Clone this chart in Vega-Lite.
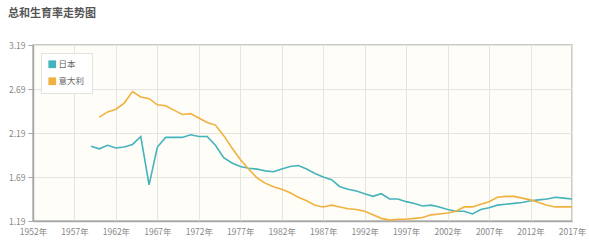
{
  "$schema": "https://vega.github.io/schema/vega-lite/v6.json",
  "autosize": "none",
  "width": 539,
  "height": 176,
  "padding": {"left": 33, "top": 45, "right": 17, "bottom": 31},
  "background": "#ffffff",
  "title": {
    "text": "总和生育率走势图",
    "anchor": "start",
    "frame": "group",
    "dx": -25,
    "offset": 22,
    "font": "Noto Sans CJK SC",
    "fontSize": 11,
    "fontWeight": "bold",
    "color": "#555555"
  },
  "config": {
    "font": "Noto Sans CJK SC",
    "view": {"fill": "#fffdf7", "stroke": "#b8b8b8", "strokeWidth": 1.5},
    "axis": {
      "labelFont": "Noto Sans CJK SC",
      "labelFontSize": 8.5,
      "labelColor": "#888888",
      "gridColor": "#e6e4de",
      "domainColor": "#a8a8a8",
      "tickColor": "#a8a8a8",
      "title": null
    }
  },
  "data": {
    "values": [
      {"year": 1959, "country": "日本", "tfr": 2.04},
      {"year": 1960, "country": "日本", "tfr": 2.01},
      {"year": 1961, "country": "日本", "tfr": 2.05},
      {"year": 1962, "country": "日本", "tfr": 2.02},
      {"year": 1963, "country": "日本", "tfr": 2.03},
      {"year": 1964, "country": "日本", "tfr": 2.06},
      {"year": 1965, "country": "日本", "tfr": 2.15},
      {"year": 1966, "country": "日本", "tfr": 1.60},
      {"year": 1967, "country": "日本", "tfr": 2.03},
      {"year": 1968, "country": "日本", "tfr": 2.14},
      {"year": 1969, "country": "日本", "tfr": 2.14},
      {"year": 1970, "country": "日本", "tfr": 2.14},
      {"year": 1971, "country": "日本", "tfr": 2.17},
      {"year": 1972, "country": "日本", "tfr": 2.15},
      {"year": 1973, "country": "日本", "tfr": 2.15},
      {"year": 1974, "country": "日本", "tfr": 2.05},
      {"year": 1975, "country": "日本", "tfr": 1.91},
      {"year": 1976, "country": "日本", "tfr": 1.85},
      {"year": 1977, "country": "日本", "tfr": 1.81},
      {"year": 1978, "country": "日本", "tfr": 1.79},
      {"year": 1979, "country": "日本", "tfr": 1.78},
      {"year": 1980, "country": "日本", "tfr": 1.76},
      {"year": 1981, "country": "日本", "tfr": 1.75},
      {"year": 1982, "country": "日本", "tfr": 1.78},
      {"year": 1983, "country": "日本", "tfr": 1.81},
      {"year": 1984, "country": "日本", "tfr": 1.82},
      {"year": 1985, "country": "日本", "tfr": 1.78},
      {"year": 1986, "country": "日本", "tfr": 1.73},
      {"year": 1987, "country": "日本", "tfr": 1.69},
      {"year": 1988, "country": "日本", "tfr": 1.66},
      {"year": 1989, "country": "日本", "tfr": 1.58},
      {"year": 1990, "country": "日本", "tfr": 1.55},
      {"year": 1991, "country": "日本", "tfr": 1.53},
      {"year": 1992, "country": "日本", "tfr": 1.50},
      {"year": 1993, "country": "日本", "tfr": 1.47},
      {"year": 1994, "country": "日本", "tfr": 1.50},
      {"year": 1995, "country": "日本", "tfr": 1.44},
      {"year": 1996, "country": "日本", "tfr": 1.44},
      {"year": 1997, "country": "日本", "tfr": 1.41},
      {"year": 1998, "country": "日本", "tfr": 1.39},
      {"year": 1999, "country": "日本", "tfr": 1.36},
      {"year": 2000, "country": "日本", "tfr": 1.37},
      {"year": 2001, "country": "日本", "tfr": 1.35},
      {"year": 2002, "country": "日本", "tfr": 1.32},
      {"year": 2003, "country": "日本", "tfr": 1.30},
      {"year": 2004, "country": "日本", "tfr": 1.30},
      {"year": 2005, "country": "日本", "tfr": 1.27},
      {"year": 2006, "country": "日本", "tfr": 1.32},
      {"year": 2007, "country": "日本", "tfr": 1.34},
      {"year": 2008, "country": "日本", "tfr": 1.37},
      {"year": 2009, "country": "日本", "tfr": 1.38},
      {"year": 2010, "country": "日本", "tfr": 1.39},
      {"year": 2011, "country": "日本", "tfr": 1.40},
      {"year": 2012, "country": "日本", "tfr": 1.42},
      {"year": 2013, "country": "日本", "tfr": 1.43},
      {"year": 2014, "country": "日本", "tfr": 1.44},
      {"year": 2015, "country": "日本", "tfr": 1.46},
      {"year": 2016, "country": "日本", "tfr": 1.45},
      {"year": 2017, "country": "日本", "tfr": 1.44},
      {"year": 1960, "country": "意大利", "tfr": 2.37},
      {"year": 1961, "country": "意大利", "tfr": 2.43},
      {"year": 1962, "country": "意大利", "tfr": 2.46},
      {"year": 1963, "country": "意大利", "tfr": 2.53},
      {"year": 1964, "country": "意大利", "tfr": 2.66},
      {"year": 1965, "country": "意大利", "tfr": 2.60},
      {"year": 1966, "country": "意大利", "tfr": 2.58},
      {"year": 1967, "country": "意大利", "tfr": 2.51},
      {"year": 1968, "country": "意大利", "tfr": 2.50},
      {"year": 1969, "country": "意大利", "tfr": 2.45},
      {"year": 1970, "country": "意大利", "tfr": 2.40},
      {"year": 1971, "country": "意大利", "tfr": 2.41},
      {"year": 1972, "country": "意大利", "tfr": 2.36},
      {"year": 1973, "country": "意大利", "tfr": 2.31},
      {"year": 1974, "country": "意大利", "tfr": 2.28},
      {"year": 1975, "country": "意大利", "tfr": 2.16},
      {"year": 1976, "country": "意大利", "tfr": 2.02},
      {"year": 1977, "country": "意大利", "tfr": 1.89},
      {"year": 1978, "country": "意大利", "tfr": 1.78},
      {"year": 1979, "country": "意大利", "tfr": 1.68},
      {"year": 1980, "country": "意大利", "tfr": 1.62},
      {"year": 1981, "country": "意大利", "tfr": 1.58},
      {"year": 1982, "country": "意大利", "tfr": 1.55},
      {"year": 1983, "country": "意大利", "tfr": 1.51},
      {"year": 1984, "country": "意大利", "tfr": 1.46},
      {"year": 1985, "country": "意大利", "tfr": 1.42},
      {"year": 1986, "country": "意大利", "tfr": 1.37},
      {"year": 1987, "country": "意大利", "tfr": 1.35},
      {"year": 1988, "country": "意大利", "tfr": 1.37},
      {"year": 1989, "country": "意大利", "tfr": 1.35},
      {"year": 1990, "country": "意大利", "tfr": 1.33},
      {"year": 1991, "country": "意大利", "tfr": 1.32},
      {"year": 1992, "country": "意大利", "tfr": 1.30},
      {"year": 1993, "country": "意大利", "tfr": 1.26},
      {"year": 1994, "country": "意大利", "tfr": 1.22},
      {"year": 1995, "country": "意大利", "tfr": 1.20},
      {"year": 1996, "country": "意大利", "tfr": 1.21},
      {"year": 1997, "country": "意大利", "tfr": 1.21},
      {"year": 1998, "country": "意大利", "tfr": 1.22},
      {"year": 1999, "country": "意大利", "tfr": 1.23},
      {"year": 2000, "country": "意大利", "tfr": 1.26},
      {"year": 2001, "country": "意大利", "tfr": 1.27},
      {"year": 2002, "country": "意大利", "tfr": 1.28},
      {"year": 2003, "country": "意大利", "tfr": 1.30},
      {"year": 2004, "country": "意大利", "tfr": 1.35},
      {"year": 2005, "country": "意大利", "tfr": 1.35},
      {"year": 2006, "country": "意大利", "tfr": 1.38},
      {"year": 2007, "country": "意大利", "tfr": 1.41},
      {"year": 2008, "country": "意大利", "tfr": 1.46},
      {"year": 2009, "country": "意大利", "tfr": 1.47},
      {"year": 2010, "country": "意大利", "tfr": 1.47},
      {"year": 2011, "country": "意大利", "tfr": 1.45},
      {"year": 2012, "country": "意大利", "tfr": 1.43},
      {"year": 2013, "country": "意大利", "tfr": 1.40},
      {"year": 2014, "country": "意大利", "tfr": 1.37},
      {"year": 2015, "country": "意大利", "tfr": 1.35},
      {"year": 2016, "country": "意大利", "tfr": 1.35},
      {"year": 2017, "country": "意大利", "tfr": 1.35}
    ]
  },
  "mark": {"type": "line", "strokeWidth": 1.6},
  "encoding": {
    "x": {
      "field": "year",
      "type": "quantitative",
      "scale": {"domain": [1952, 2017], "nice": false, "zero": false},
      "axis": {
        "values": [1952, 1957, 1962, 1967, 1972, 1977, 1982, 1987, 1992, 1997, 2002, 2007, 2012, 2017],
        "labelExpr": "datum.value + '年'",
        "grid": true,
        "ticks": false,
        "domainWidth": 1.5,
        "labelPadding": 6,
        "labelFlush": false,
        "labelOverlap": false
      }
    },
    "y": {
      "field": "tfr",
      "type": "quantitative",
      "scale": {"domain": [1.19, 3.19], "nice": false, "zero": false},
      "axis": {
        "values": [1.19, 1.69, 2.19, 2.69, 3.19],
        "format": ".2f",
        "grid": true,
        "tickSize": 5,
        "domainWidth": 1.5,
        "labelPadding": 3
      }
    },
    "color": {
      "field": "country",
      "type": "nominal",
      "sort": ["日本", "意大利"],
      "scale": {"domain": ["日本", "意大利"], "range": ["#45b3bb", "#f1b13f"]},
      "legend": {
        "title": null,
        "orient": "none",
        "legendX": 8,
        "legendY": 8,
        "padding": 7,
        "fillColor": "#ffffff",
        "strokeColor": "#e2e2e2",
        "symbolType": "square",
        "symbolSize": 60,
        "symbolStrokeWidth": 0,
        "labelFont": "Noto Sans CJK SC",
        "labelFontSize": 8.5,
        "labelColor": "#666666",
        "labelOffset": 2,
        "rowPadding": 8,
        "encode": {"symbols": {"update": {"fill": {"scale": "color", "field": "value"}, "fillOpacity": {"value": 1}}}}
      }
    }
  }
}
